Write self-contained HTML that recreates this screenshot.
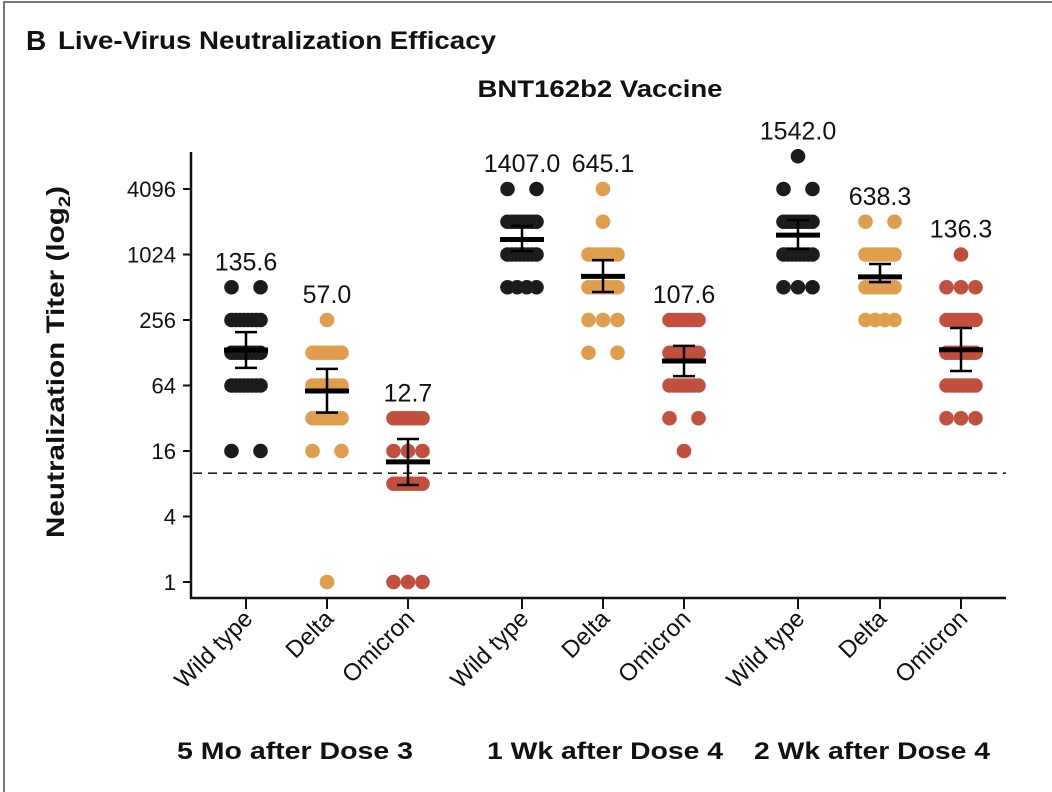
<!DOCTYPE html>
<html><head><meta charset="utf-8"><style>
html,body{margin:0;padding:0;background:#fff;}
svg{display:block;font-family:"Liberation Sans",sans-serif;}
</style></head><body>
<svg id="chart" width="1052" height="792" viewBox="0 0 1052 792">
<rect x="4" y="2" width="1060" height="800" fill="none" stroke="#777" stroke-width="2"/>
<text x="26" y="50" font-size="28" font-weight="bold" fill="#111">B</text>
<text x="58" y="49" font-size="25" font-weight="bold" fill="#111" textLength="438" lengthAdjust="spacingAndGlyphs">Live-Virus Neutralization Efficacy</text>
<text x="600" y="97" font-size="24" font-weight="bold" fill="#111" text-anchor="middle" textLength="245" lengthAdjust="spacingAndGlyphs">BNT162b2 Vaccine</text>
<text transform="translate(64,362) rotate(-90)" font-size="25" font-weight="bold" fill="#111" text-anchor="middle" textLength="352" lengthAdjust="spacingAndGlyphs">Neutralization Titer (log<tspan font-size="17" dy="6">2</tspan><tspan dy="-6">)</tspan></text>
<g id="plot"></g>
</svg>
<script>
const categories=["Wild type","Delta","Omicron","Wild type","Delta","Omicron","Wild type","Delta","Omicron"];
const timepoints=["5 Mo after Dose 3","1 Wk after Dose 4","2 Wk after Dose 4"];
const gmt=[135.6,57.0,12.7,1407.0,645.1,107.6,1542.0,638.3,136.3];
const ciHigh=[198,91,20.6,1870,910,148,2120,838,216];
const ciLow=[93,36,7.8,1100,463,78,1150,570,87];
const dotRows=[
 [[512,2],[256,8],[128,8],[64,8],[16,2]],
 [[256,1],[128,8],[64,8],[32,8],[16,2],[1,1]],
 [[32,8],[16,3],[8,8],[1,3]],
 [[4096,2],[2048,8],[1024,8],[512,4]],
 [[4096,1],[2048,1],[1024,8],[512,8],[256,3],[128,2]],
 [[256,8],[128,8],[64,8],[32,2],[16,1]],
 [[8192,1],[4096,2],[2048,8],[1024,8],[512,3]],
 [[2048,2],[1024,8],[512,8],[256,4]],
 [[1024,1],[512,3],[256,8],[128,8],[64,8],[32,3]]
];
const yTicks=[1,4,16,64,256,1024,4096];
const threshold=10;
const colors=["#1c1c1c","#e09e4c","#c24f3e"];
const xCenters=[246,327,408,522,603,684,798,880,961];
const groupCenters=[295,605,872];

const NS="http://www.w3.org/2000/svg";
const g=document.getElementById('plot');
function y(v){return 582-32.75*Math.log2(v);}
function mk(t,a,p){const e=document.createElementNS(NS,t);for(const k in a)e.setAttribute(k,a[k]);(p||g).appendChild(e);return e;}

let ax=mk('line',{x1:191,y1:152,x2:191,y2:599,stroke:'#111','stroke-width':2.5});


let bx=mk('line',{x1:190,y1:598,x2:1006,y2:598,stroke:'#111','stroke-width':2.5});


yTicks.forEach(v=>{
 const t=mk('line',{x1:183,y1:y(v),x2:191,y2:y(v),stroke:'#111','stroke-width':2});
 
 
 const l=mk('text',{x:176,y:y(v)+8,'font-size':22,'text-anchor':'end',fill:'#111'});
 l.textContent=v;
 
 
});
const dl=mk('line',{x1:193,y1:y(threshold),x2:1006,y2:y(threshold),stroke:'#222','stroke-width':1.6,'stroke-dasharray':'9,6'});



categories.forEach((c,i)=>{
 const cx=xCenters[i], col=colors[i%3];
 const tk=mk('line',{x1:cx,y1:598,x2:cx,y2:609,stroke:'#111','stroke-width':2});
 
 
 const lb=mk('text',{transform:`translate(${cx+8},${620}) rotate(-45)`,'font-size':24,'text-anchor':'end',fill:'#111'});
 lb.textContent=c;
 
 
 let top=1e9;
 dotRows[i].forEach(([v,n])=>{
  const yy=y(v); top=Math.min(top,yy);
  const sp = n===1?0:29/(n-1);
  for(let k=0;k<n;k++){
   const d=mk('circle',{cx:cx-sp*(n-1)/2+sp*k,cy:yy,r:7.3,fill:col});
   
   
  }
 });
 const ci=mk('line',{x1:cx,y1:y(ciHigh[i]),x2:cx,y2:y(ciLow[i]),stroke:'#000','stroke-width':2.5});
 
 
 [ciHigh[i],ciLow[i]].forEach(v=>{
  const cap=mk('line',{x1:cx-11,y1:y(v),x2:cx+11,y2:y(v),stroke:'#000','stroke-width':2.5});
  
  
 });
 const m=mk('line',{x1:cx-22,y1:y(gmt[i]),x2:cx+22,y2:y(gmt[i]),stroke:'#000','stroke-width':5});
 
 
 const gl=mk('text',{x:cx,y:top-17,'font-size':25,'text-anchor':'middle',fill:'#111'});
 gl.textContent=gmt[i].toFixed(1);
 
 
});
timepoints.forEach((t,j)=>{
 const l=mk('text',{x:groupCenters[j],y:759,'font-size':24,'font-weight':'bold','text-anchor':'middle',fill:'#111',textLength:236,lengthAdjust:'spacingAndGlyphs'});
 l.textContent=t;
 
 
});
</script>
</body></html>
